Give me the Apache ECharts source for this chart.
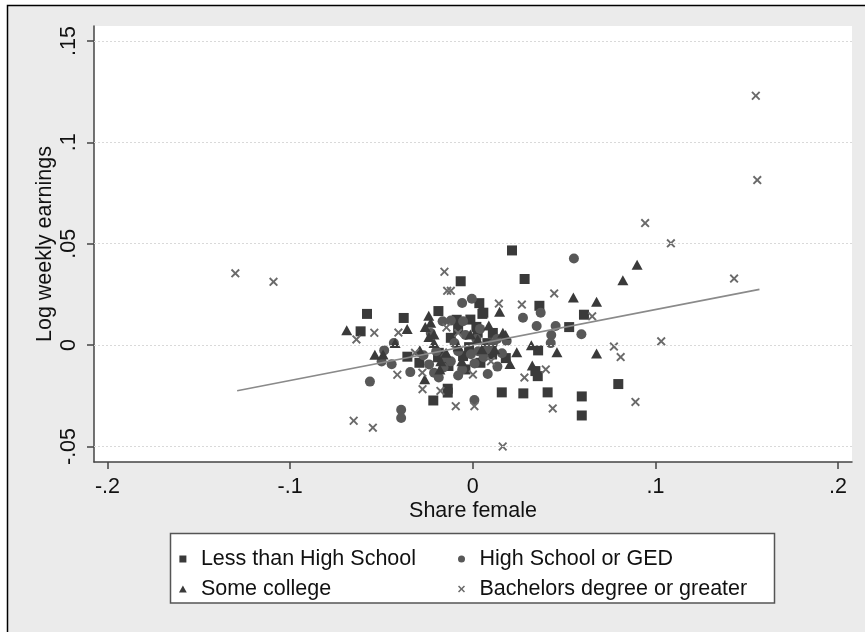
<!DOCTYPE html>
<html>
<head>
<meta charset="utf-8">
<script src="https://cdn.jsdelivr.net/npm/echarts@6/dist/echarts.min.js"></script>
<style>html,body{margin:0;padding:0;background:#fff}#c{width:865px;height:632px}</style>
</head>
<body>
<div id="c"></div>
<script>
// ---- data ----
const xTicks = [-0.2, -0.1, 0, 0.1, 0.2];
const yTicks = [-0.05, 0, 0.05, 0.1, 0.15];
const seriesNames = ['Less than High School', 'High School or GED', 'Some college', 'Bachelors degree or greater'];
const lessHS = [
  [0.0215,0.0467],[-0.0066,0.0315],[0.0284,0.0326],[-0.0579,0.0154],[-0.0614,0.0068],
  [-0.0378,0.0134],[-0.0188,0.0168],[0.0036,0.0207],[0.0053,0.0154],[0.0365,0.0194],
  [0.0609,0.0150],[0.0528,0.0089],[-0.0013,0.0126],[-0.0088,0.0125],[-0.0358,-0.0057],
  [0.0358,-0.0026],[0.0042,-0.0087],[0.0181,-0.0064],[0.0343,-0.0128],[0.0356,-0.0153],
  [-0.0133,-0.0103],[-0.0137,-0.0215],[-0.0137,-0.0234],[-0.0216,-0.0273],[0.0159,-0.0233],
  [0.0277,-0.0238],[0.0410,-0.0233],[0.0597,-0.0253],[0.0597,-0.0347],[0.0797,-0.0192],
  [-0.0292,-0.0087],[-0.0186,-0.0038],[-0.0053,-0.0054],[0.0106,-0.0046],[-0.0120,0.0036],
  [0.0027,0.0061],[0.0058,0.0160],[-0.0020,-0.0010],[0.0080,0.0010],
  [-0.0190,-0.0060],[-0.0080,0.0080],[0.0110,0.0060],[-0.0040,-0.0120],[0.0020,0.0090]
];
const hsGED = [
  [0.0554,0.0427],[-0.0005,0.0229],[-0.0058,0.0208],[0.0275,0.0135],[0.0372,0.0160],
  [0.0350,0.0094],[0.0454,0.0094],[0.0430,0.0050],[0.0427,0.0010],[0.0595,0.0054],
  [-0.0432,0.0010],[-0.0485,-0.0026],[-0.0499,-0.0081],[-0.0444,-0.0094],[-0.0563,-0.0180],
  [-0.0392,-0.0319],[-0.0392,-0.0359],[-0.0342,-0.0133],[-0.0058,-0.0120],[0.0009,-0.0271],
  [0.0082,-0.0142],[0.0135,-0.0106],[-0.0053,0.0118],[-0.0120,0.0121],[-0.0165,0.0118],
  [-0.0239,-0.0095],[-0.0212,-0.0136],[-0.0186,-0.0160],[0.0186,0.0020],[-0.0080,-0.0030],
  [-0.0010,-0.0045],[0.0030,-0.0030],[0.0080,-0.0020],[0.0110,0.0005],[0.0133,0.0030],
  [-0.0150,-0.0060],[-0.0100,0.0010],[0.0020,0.0030],[-0.0270,-0.0050],[0.0060,-0.0060],
  [-0.0200,-0.0030],[-0.0160,-0.0110],[-0.0120,-0.0080],[-0.0040,0.0050],[0.0040,0.0080],
  [0.0160,-0.0040],[-0.0230,0.0060],[-0.0080,-0.0150],[0.0010,-0.0090]
];
const someCollege = [
  [0.0900,0.0396],[0.0822,0.0320],[0.0551,0.0235],[0.0678,0.0214],[0.0147,0.0164],
  [-0.0690,0.0073],[-0.0536,-0.0048],[-0.0359,0.0080],[-0.0241,0.0145],[-0.0230,0.0110],
  [-0.0212,0.0052],[-0.0212,0.0011],[0.0088,0.0097],[0.0165,0.0061],[0.0321,0.0000],
  [0.0241,-0.0035],[0.0461,-0.0035],[0.0678,-0.0041],[0.0204,-0.0093],[0.0326,-0.0100],
  [-0.0263,-0.0168],[-0.0290,-0.0025],[-0.0491,-0.0046],[-0.0080,-0.0005],[0.0027,0.0028],
  [-0.0013,0.0052],[-0.0146,-0.0038],[-0.0425,0.0011],[0.0050,-0.0020],[-0.0175,-0.0080],
  [-0.0260,0.0090],[-0.0240,0.0040],[-0.0180,-0.0120],[-0.0060,-0.0080],[0.0120,-0.0020],
  [0.0180,0.0050]
];
const bachelors = [
  [-0.1300,0.0354],[-0.1091,0.0312],[0.1550,0.1230],[0.1558,0.0814],[0.0944,0.0602],
  [0.1085,0.0502],[0.1431,0.0328],[0.1032,0.0019],[0.0773,-0.0007],[0.0810,-0.0059],
  [0.0891,-0.0280],[-0.0155,0.0362],[-0.0140,0.0268],[-0.0120,0.0268],[0.0143,0.0205],
  [0.0269,0.0200],[0.0446,0.0255],[0.0654,0.0142],[-0.0539,0.0061],[-0.0637,0.0028],
  [-0.0407,0.0062],[-0.0144,0.0087],[-0.0413,-0.0146],[-0.0276,-0.0136],[-0.0275,-0.0217],
  [-0.0177,-0.0226],[0.0001,-0.0145],[-0.0093,-0.0301],[0.0009,-0.0301],[0.0400,-0.0120],
  [0.0283,-0.0160],[0.0438,-0.0312],[0.0164,-0.0500],[-0.0652,-0.0373],[-0.0547,-0.0407],
  [-0.0316,-0.0038],[-0.0080,0.0060],[0.0100,-0.0080]
];
const fitLine = [[-0.129,-0.0225],[0.157,0.0275]];

// ---- styling ----
const FONT = '"Liberation Sans", Arial, Helvetica, sans-serif';
const SQ = 'path://M0,0H10V10H0Z';
const TRI = 'path://M5,0L10,9L0,9Z';
const CIR = 'circle';
const XS = 'path://M0,1.5L1.5,0L5,3.5L8.5,0L10,1.5L6.5,5L10,8.5L8.5,10L5,6.5L1.5,10L0,8.5L3.5,5Z';
const fmt = v => (Math.abs(v) < 1e-9 ? '0' : String(+v.toFixed(2)).replace('0.', '.'));

const chart = echarts.init(document.getElementById('c'), null, {renderer: 'canvas'});
chart.setOption({
  backgroundColor: '#ffffff',
  animation: false,
  textStyle: {fontFamily: FONT},
  graphic: [
    {type: 'rect', z: -10, shape: {x: 7.5, y: 5.5, width: 900, height: 700},
     style: {fill: '#ebebeb', stroke: '#000', lineWidth: 1.5}},
    {type: 'rect', z: 1, shape: {x: 170.5, y: 533.5, width: 604, height: 69.5},
     style: {fill: '#ffffff', stroke: '#555', lineWidth: 1.5}}
  ],
  grid: {left: 94, top: 26, right: 13, bottom: 170, show: true, backgroundColor: '#ffffff', borderWidth: 0, containLabel: false},
  xAxis: {
    type: 'value', min: -0.20739, max: 0.20767,
    name: 'Share female', nameLocation: 'middle', nameGap: 38, nameMoveOverlap: false,
    nameTextStyle: {fontSize: 21.5, color: '#111', fontFamily: FONT},
    axisLine: {show: true, onZero: false, lineStyle: {color: '#444', width: 1.5}},
    axisTick: {show: true, length: 7, customValues: xTicks, lineStyle: {color: '#444', width: 1.5}},
    axisLabel: {customValues: xTicks, formatter: fmt, fontSize: 21.5, color: '#111', margin: 14, fontFamily: FONT},
    splitLine: {show: false}
  },
  yAxis: {
    type: 'value', min: -0.05764, max: 0.15739,
    name: 'Log weekly earnings', nameLocation: 'middle', nameGap: 38, nameRotate: 90, nameMoveOverlap: false,
    nameTextStyle: {fontSize: 21.5, color: '#111', fontFamily: FONT},
    axisLine: {show: true, onZero: false, lineStyle: {color: '#444', width: 1.5}},
    axisTick: {show: true, length: 7, customValues: yTicks, lineStyle: {color: '#444', width: 1.5}},
    axisLabel: {customValues: yTicks, formatter: fmt, fontSize: 21.5, color: '#111', rotate: 90, margin: 14, fontFamily: FONT},
    splitLine: {show: false}
  },
  legend: [
    {left: 174, top: 543, orient: 'vertical', itemWidth: 26, itemHeight: 7, itemGap: 8,
     textStyle: {fontSize: 21.5, color: '#111', fontFamily: FONT},
     data: [{name: seriesNames[0], icon: SQ}, {name: seriesNames[2], icon: TRI}]},
    {left: 453, top: 543, orient: 'vertical', itemWidth: 26, itemHeight: 7, itemGap: 8,
     textStyle: {fontSize: 21.5, color: '#111', fontFamily: FONT},
     data: [{name: seriesNames[1], icon: CIR}, {name: seriesNames[3], icon: XS}]}
  ],
  series: [
    {type: 'scatter', name: '_grid', data: [], silent: true, z: 1,
     markLine: {silent: true, symbol: ['none', 'none'], label: {show: false}, animation: false,
       lineStyle: {color: '#d9d9d9', width: 1, type: [2, 2]},
       data: yTicks.map(v => ({yAxis: v}))}},
    {type: 'scatter', name: seriesNames[0], data: lessHS, symbol: SQ, symbolSize: 10, z: 3,
     itemStyle: {color: '#3a3a3a', opacity: 1}},
    {type: 'scatter', name: seriesNames[1], data: hsGED, symbol: CIR, symbolSize: 10, z: 3,
     itemStyle: {color: '#585858', opacity: 1}},
    {type: 'scatter', name: seriesNames[2], data: someCollege, symbol: TRI, symbolSize: [11, 10], z: 3,
     itemStyle: {color: '#3a3a3a', opacity: 1}},
    {type: 'scatter', name: seriesNames[3], data: bachelors, symbol: XS, symbolSize: 9, z: 3,
     itemStyle: {color: '#6a6a6a', opacity: 1}},
    {type: 'line', name: '_fit', data: fitLine, symbol: 'none', z: 4, silent: true,
     lineStyle: {color: '#8a8a8a', width: 1.6}}
  ]
});
</script>
</body>
</html>
